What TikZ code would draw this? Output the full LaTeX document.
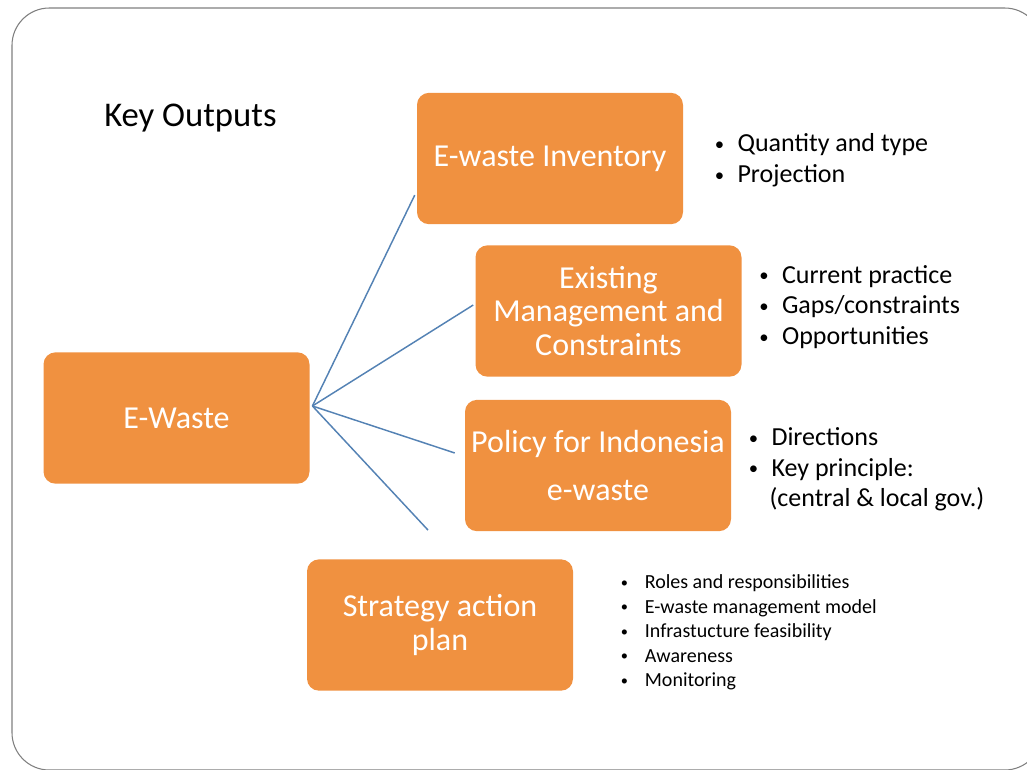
\documentclass[tikz,border=0pt]{standalone}
\usepackage{fontspec}
\setmainfont{Carlito}
\usepackage{xcolor}
\usetikzlibrary{positioning}
\definecolor{boxorange}{RGB}{240,145,64}
\definecolor{linkblue}{RGB}{84,130,180}
\newcommand{\bul}[1][18pt]{\makebox[#1][l]{\hspace{1pt}\raisebox{0.12ex}{\scalebox{0.72}{\textbullet}}}}

\begin{document}
\begin{tikzpicture}[x=0.75pt, y=-0.75pt]
	% Define styles
	\tikzset{
		block/.style={rectangle, rounded corners=9pt, fill=boxorange, text=white, align=center, minimum width=199.5pt, minimum height=98.5pt, font=\fontsize{24}{25}\selectfont},
		line/.style={draw=linkblue, line width=1.1pt},
		bullets/.style={align=left, inner sep=0pt, anchor=west, font=\fontsize{19.5}{23}\selectfont},
		smallbullets/.style={bullets, font=\fontsize{15}{18.4}\selectfont},
		frame/.style={draw=gray, line width=0.8pt, rounded corners=28pt}
	}
	
	\useasboundingbox (0,0) rectangle (1027,769);
	\draw[frame] (12,8) rectangle (1042,770);
	
	% Nodes
	\node[anchor=west, inner sep=0pt, font=\fontsize{26}{30}\selectfont] (title) at (104,118) {Key Outputs};
	\node[block] (ewaste) at (176.5,418) {E-Waste};
	\node[block] (inventory) at (550,158.5) {E-waste Inventory};
	\node[block] (existing) at (608.5,311) {Existing\\Management and\\Constraints};
	\node[block] (policy) at (598,465.5) {Policy for Indonesia\\[11pt]e-waste};
	\node[block] (strategy) at (440,625) {Strategy action\\plan};
	
	\node[bullets, right=22.5pt of inventory, yshift=-1.5pt] (inv-list) {\bul Quantity and type\\ \bul Projection};
	\node[bullets, right=12pt of existing, yshift=3pt] (exist-list) {\bul Current practice\\ \bul Gaps/constraints\\ \bul Opportunities};
	\node[bullets, right=12pt of policy, yshift=-3pt] (pol-list) {\bul Directions\\ \bul Key principle:\\ \hspace*{16.5pt}(central \& local gov.)};
	\node[smallbullets, right=34.5pt of strategy, yshift=-5.5pt] (strat-list) {\bul[19pt]Roles and responsibilities\\ \bul[19pt]E-waste management model\\ \bul[19pt]Infrastucture feasibility\\ \bul[19pt]Awareness\\ \bul[19pt]Monitoring};
	
	\coordinate (hub) at ([xshift=2pt, yshift=9pt]ewaste.east);
	\coordinate (inv-end) at ([xshift=-1.5pt, yshift=22pt]inventory.south west);
	\coordinate (exist-end) at ([xshift=-1.5pt, yshift=4.5pt]existing.west);
	\coordinate (pol-end) at ([xshift=-7.5pt, yshift=9.4pt]policy.west);
	\coordinate (strat-end) at ([xshift=-9pt, yshift=21.75pt]strategy.north);
	
	% Lines
	\draw[line] (hub) -- (inv-end);
	\draw[line] (hub) -- (exist-end);
	\draw[line] (hub) -- (pol-end);
	\draw[line] (hub) -- (strat-end);
	
\end{tikzpicture}
\end{document}
